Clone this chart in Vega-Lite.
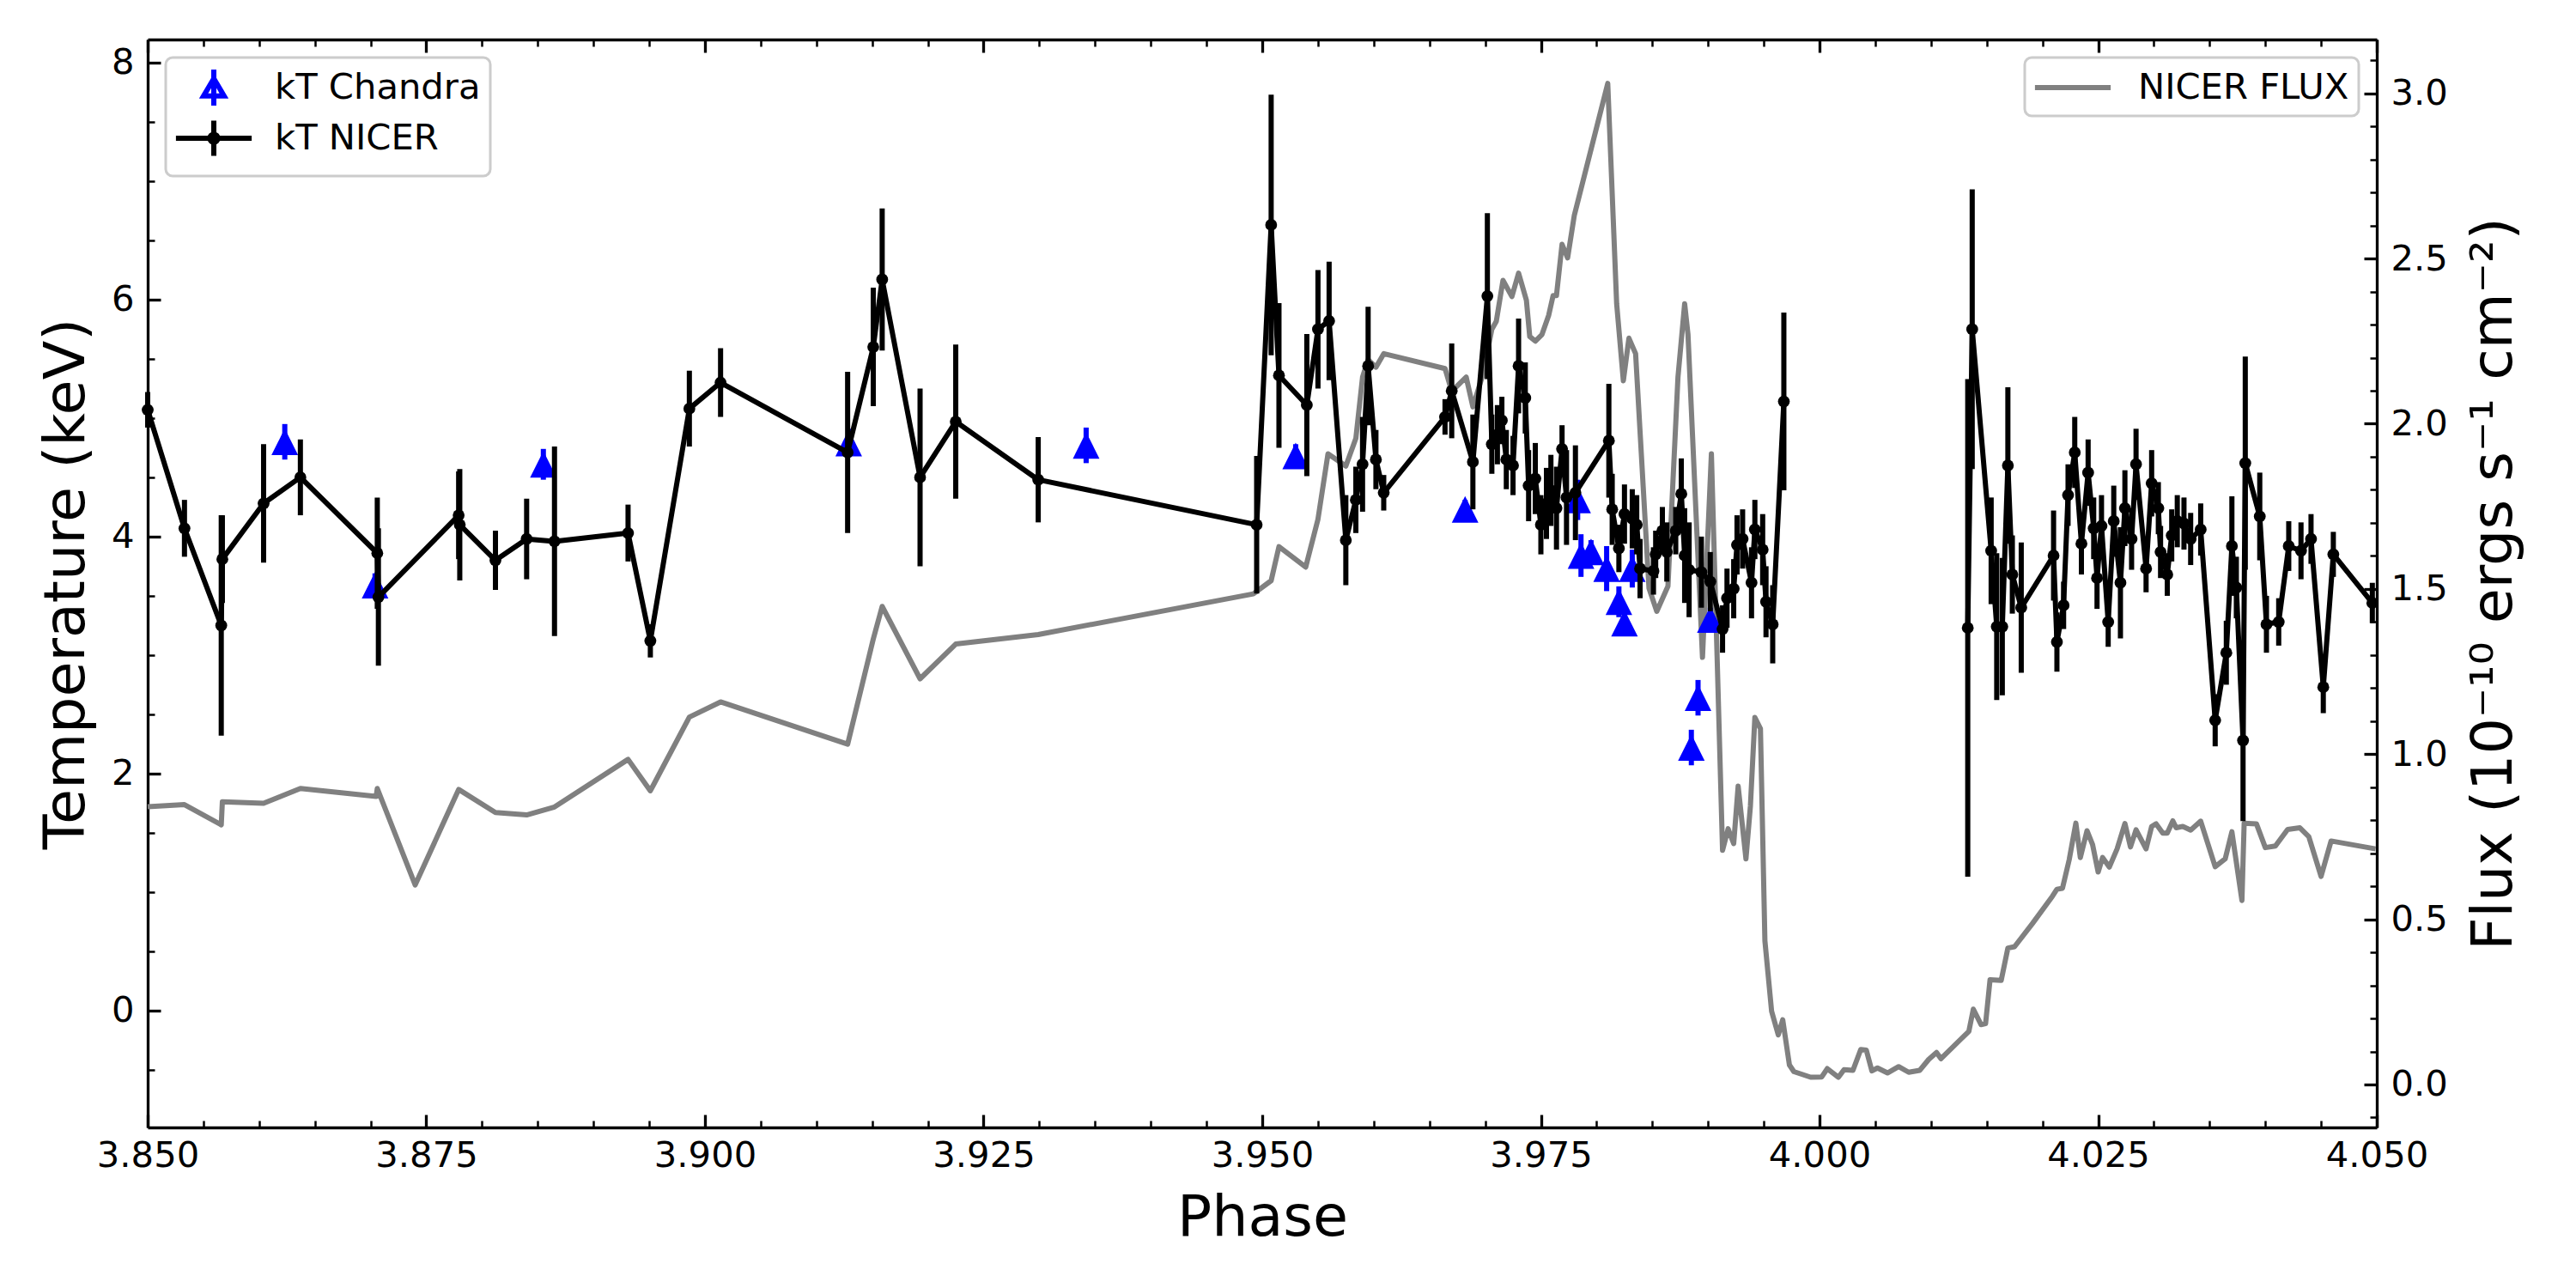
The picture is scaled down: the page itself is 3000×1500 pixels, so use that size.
{
  "$schema": "https://vega.github.io/schema/vega-lite/v6.json",
  "width": 2596,
  "height": 1267,
  "autosize": {"type": "none"},
  "padding": {"left": 172, "top": 46, "right": 232, "bottom": 187},
  "background": "white",
  "datasets": {
    "nicer": [
      {"phase": 3.8500, "kT": 5.07, "err": 0.15, "seg": 1},
      {"phase": 3.8533, "kT": 4.07, "err": 0.24, "seg": 1},
      {"phase": 3.8566, "kT": 3.25, "err": 0.93, "seg": 1},
      {"phase": 3.8567, "kT": 3.81, "err": 0.37, "seg": 1},
      {"phase": 3.8604, "kT": 4.28, "err": 0.50, "seg": 1},
      {"phase": 3.8637, "kT": 4.50, "err": 0.32, "seg": 1},
      {"phase": 3.8706, "kT": 3.86, "err": 0.47, "seg": 1},
      {"phase": 3.8707, "kT": 3.49, "err": 0.58, "seg": 1},
      {"phase": 3.8779, "kT": 4.18, "err": 0.37, "seg": 1},
      {"phase": 3.8780, "kT": 4.10, "err": 0.47, "seg": 1},
      {"phase": 3.8812, "kT": 3.80, "err": 0.25, "seg": 1},
      {"phase": 3.8840, "kT": 3.98, "err": 0.34, "seg": 1},
      {"phase": 3.8865, "kT": 3.96, "err": 0.80, "seg": 1},
      {"phase": 3.8931, "kT": 4.03, "err": 0.24, "seg": 1},
      {"phase": 3.8951, "kT": 3.12, "err": 0.14, "seg": 1},
      {"phase": 3.8986, "kT": 5.08, "err": 0.32, "seg": 1},
      {"phase": 3.9014, "kT": 5.30, "err": 0.29, "seg": 1},
      {"phase": 3.9128, "kT": 4.71, "err": 0.68, "seg": 1},
      {"phase": 3.9151, "kT": 5.60, "err": 0.50, "seg": 1},
      {"phase": 3.9159, "kT": 6.17, "err": 0.60, "seg": 1},
      {"phase": 3.9193, "kT": 4.50, "err": 0.75, "seg": 1},
      {"phase": 3.9225, "kT": 4.97, "err": 0.65, "seg": 1},
      {"phase": 3.9299, "kT": 4.48, "err": 0.36, "seg": 1},
      {"phase": 3.9495, "kT": 4.10, "err": 0.58, "seg": 1},
      {"phase": 3.9508, "kT": 6.63, "err": 1.10, "seg": 1},
      {"phase": 3.9515, "kT": 5.36, "err": 0.61, "seg": 1},
      {"phase": 3.9540, "kT": 5.11, "err": 0.60, "seg": 1},
      {"phase": 3.9550, "kT": 5.75, "err": 0.50, "seg": 1},
      {"phase": 3.9560, "kT": 5.82, "err": 0.50, "seg": 1},
      {"phase": 3.9575, "kT": 3.97, "err": 0.38, "seg": 1},
      {"phase": 3.9584, "kT": 4.31, "err": 0.28, "seg": 1},
      {"phase": 3.9590, "kT": 4.61, "err": 0.40, "seg": 1},
      {"phase": 3.9595, "kT": 5.44, "err": 0.50, "seg": 1},
      {"phase": 3.9602, "kT": 4.65, "err": 0.25, "seg": 1},
      {"phase": 3.9609, "kT": 4.37, "err": 0.15, "seg": 1},
      {"phase": 3.9664, "kT": 5.01, "err": 0.15, "seg": 1},
      {"phase": 3.9670, "kT": 5.23, "err": 0.40, "seg": 1},
      {"phase": 3.9689, "kT": 4.63, "err": 0.40, "seg": 1},
      {"phase": 3.9702, "kT": 6.03, "err": 0.70, "seg": 1},
      {"phase": 3.9706, "kT": 4.78, "err": 0.25, "seg": 1},
      {"phase": 3.9711, "kT": 4.86, "err": 0.25, "seg": 1},
      {"phase": 3.9715, "kT": 4.98, "err": 0.20, "seg": 1},
      {"phase": 3.9719, "kT": 4.65, "err": 0.25, "seg": 1},
      {"phase": 3.9725, "kT": 4.60, "err": 0.25, "seg": 1},
      {"phase": 3.9730, "kT": 5.44, "err": 0.40, "seg": 1},
      {"phase": 3.9736, "kT": 5.17, "err": 0.30, "seg": 1},
      {"phase": 3.9739, "kT": 4.43, "err": 0.30, "seg": 1},
      {"phase": 3.9745, "kT": 4.49, "err": 0.30, "seg": 1},
      {"phase": 3.9750, "kT": 4.10, "err": 0.25, "seg": 1},
      {"phase": 3.9755, "kT": 4.28, "err": 0.30, "seg": 1},
      {"phase": 3.9759, "kT": 4.39, "err": 0.30, "seg": 1},
      {"phase": 3.9764, "kT": 4.24, "err": 0.35, "seg": 1},
      {"phase": 3.9769, "kT": 4.74, "err": 0.20, "seg": 1},
      {"phase": 3.9773, "kT": 4.33, "err": 0.40, "seg": 1},
      {"phase": 3.9781, "kT": 4.37, "err": 0.40, "seg": 1},
      {"phase": 3.9811, "kT": 4.81, "err": 0.48, "seg": 1},
      {"phase": 3.9814, "kT": 4.23, "err": 0.30, "seg": 1},
      {"phase": 3.9820, "kT": 3.90, "err": 0.20, "seg": 1},
      {"phase": 3.9825, "kT": 4.19, "err": 0.25, "seg": 1},
      {"phase": 3.9832, "kT": 4.15, "err": 0.25, "seg": 1},
      {"phase": 3.9836, "kT": 4.10, "err": 0.25, "seg": 1},
      {"phase": 3.9839, "kT": 3.73, "err": 0.25, "seg": 1},
      {"phase": 3.9851, "kT": 3.71, "err": 0.20, "seg": 1},
      {"phase": 3.9853, "kT": 3.85, "err": 0.20, "seg": 1},
      {"phase": 3.9859, "kT": 4.05, "err": 0.20, "seg": 1},
      {"phase": 3.9863, "kT": 3.87, "err": 0.25, "seg": 1},
      {"phase": 3.9871, "kT": 4.05, "err": 0.20, "seg": 1},
      {"phase": 3.9876, "kT": 4.36, "err": 0.30, "seg": 1},
      {"phase": 3.9879, "kT": 3.84, "err": 0.40, "seg": 1},
      {"phase": 3.9883, "kT": 3.72, "err": 0.40, "seg": 1},
      {"phase": 3.9894, "kT": 3.70, "err": 0.30, "seg": 1},
      {"phase": 3.9902, "kT": 3.62, "err": 0.25, "seg": 1},
      {"phase": 3.9913, "kT": 3.22, "err": 0.20, "seg": 1},
      {"phase": 3.9917, "kT": 3.48, "err": 0.25, "seg": 1},
      {"phase": 3.9923, "kT": 3.56, "err": 0.25, "seg": 1},
      {"phase": 3.9926, "kT": 3.93, "err": 0.25, "seg": 1},
      {"phase": 3.9931, "kT": 3.98, "err": 0.25, "seg": 1},
      {"phase": 3.9939, "kT": 3.61, "err": 0.30, "seg": 1},
      {"phase": 3.9942, "kT": 4.06, "err": 0.25, "seg": 1},
      {"phase": 3.9949, "kT": 3.89, "err": 0.30, "seg": 1},
      {"phase": 3.9952, "kT": 3.45, "err": 0.30, "seg": 1},
      {"phase": 3.9958, "kT": 3.26, "err": 0.33, "seg": 1},
      {"phase": 3.9968, "kT": 5.14, "err": 0.75, "seg": 1},
      {"phase": 4.0133, "kT": 3.23, "err": 2.10, "seg": 2},
      {"phase": 4.0137, "kT": 5.75, "err": 1.18, "seg": 2},
      {"phase": 4.0154, "kT": 3.88, "err": 0.45, "seg": 2},
      {"phase": 4.0159, "kT": 3.24, "err": 0.62, "seg": 2},
      {"phase": 4.0164, "kT": 3.24, "err": 0.58, "seg": 2},
      {"phase": 4.0169, "kT": 4.60, "err": 0.66, "seg": 2},
      {"phase": 4.0173, "kT": 3.68, "err": 0.33, "seg": 2},
      {"phase": 4.0181, "kT": 3.40, "err": 0.55, "seg": 2},
      {"phase": 4.0210, "kT": 3.84, "err": 0.38, "seg": 2},
      {"phase": 4.0213, "kT": 3.11, "err": 0.25, "seg": 2},
      {"phase": 4.0219, "kT": 3.42, "err": 0.20, "seg": 2},
      {"phase": 4.0223, "kT": 4.35, "err": 0.26, "seg": 2},
      {"phase": 4.0229, "kT": 4.71, "err": 0.30, "seg": 2},
      {"phase": 4.0235, "kT": 3.94, "err": 0.26, "seg": 2},
      {"phase": 4.0241, "kT": 4.54, "err": 0.28, "seg": 2},
      {"phase": 4.0246, "kT": 4.07, "err": 0.26, "seg": 2},
      {"phase": 4.0249, "kT": 3.65, "err": 0.26, "seg": 2},
      {"phase": 4.0253, "kT": 4.09, "err": 0.26, "seg": 2},
      {"phase": 4.0259, "kT": 3.28, "err": 0.21, "seg": 2},
      {"phase": 4.0264, "kT": 4.13, "err": 0.30, "seg": 2},
      {"phase": 4.0270, "kT": 3.61, "err": 0.47, "seg": 2},
      {"phase": 4.0274, "kT": 4.24, "err": 0.32, "seg": 2},
      {"phase": 4.0280, "kT": 3.98, "err": 0.26, "seg": 2},
      {"phase": 4.0284, "kT": 4.61, "err": 0.30, "seg": 2},
      {"phase": 4.0293, "kT": 3.73, "err": 0.20, "seg": 2},
      {"phase": 4.0298, "kT": 4.45, "err": 0.28, "seg": 2},
      {"phase": 4.0304, "kT": 4.24, "err": 0.22, "seg": 2},
      {"phase": 4.0306, "kT": 3.87, "err": 0.22, "seg": 2},
      {"phase": 4.0312, "kT": 3.68, "err": 0.18, "seg": 2},
      {"phase": 4.0316, "kT": 4.01, "err": 0.22, "seg": 2},
      {"phase": 4.0321, "kT": 4.13, "err": 0.22, "seg": 2},
      {"phase": 4.0327, "kT": 4.11, "err": 0.22, "seg": 2},
      {"phase": 4.0333, "kT": 3.98, "err": 0.22, "seg": 2},
      {"phase": 4.0342, "kT": 4.06, "err": 0.22, "seg": 2},
      {"phase": 4.0355, "kT": 2.45, "err": 0.22, "seg": 2},
      {"phase": 4.0365, "kT": 3.02, "err": 0.27, "seg": 2},
      {"phase": 4.0370, "kT": 3.92, "err": 0.42, "seg": 2},
      {"phase": 4.0374, "kT": 3.57, "err": 0.26, "seg": 2},
      {"phase": 4.0380, "kT": 2.28, "err": 0.68, "seg": 2},
      {"phase": 4.0382, "kT": 4.62, "err": 0.90, "seg": 2},
      {"phase": 4.0395, "kT": 4.17, "err": 0.37, "seg": 2},
      {"phase": 4.0401, "kT": 3.26, "err": 0.24, "seg": 2},
      {"phase": 4.0412, "kT": 3.28, "err": 0.20, "seg": 2},
      {"phase": 4.0421, "kT": 3.92, "err": 0.21, "seg": 2},
      {"phase": 4.0432, "kT": 3.88, "err": 0.24, "seg": 2},
      {"phase": 4.0441, "kT": 3.98, "err": 0.21, "seg": 2},
      {"phase": 4.0452, "kT": 2.73, "err": 0.22, "seg": 2},
      {"phase": 4.0461, "kT": 3.85, "err": 0.19, "seg": 2},
      {"phase": 4.0496, "kT": 3.44, "err": 0.17, "seg": 2}
    ],
    "chandra": [
      {"phase": 3.8623, "kT": 4.80, "err": 0.15},
      {"phase": 3.8704, "kT": 3.59, "err": 0.10},
      {"phase": 3.8855, "kT": 4.61, "err": 0.13},
      {"phase": 3.9129, "kT": 4.79, "err": 0.12},
      {"phase": 3.9342, "kT": 4.77, "err": 0.15},
      {"phase": 3.9530, "kT": 4.68, "err": 0.10},
      {"phase": 3.9682, "kT": 4.23, "err": 0.08},
      {"phase": 3.9783, "kT": 4.31, "err": 0.17},
      {"phase": 3.9786, "kT": 3.84, "err": 0.18},
      {"phase": 3.9795, "kT": 3.87, "err": 0.10},
      {"phase": 3.9809, "kT": 3.73, "err": 0.19},
      {"phase": 3.9820, "kT": 3.45, "err": 0.13},
      {"phase": 3.9825, "kT": 3.27, "err": 0.10},
      {"phase": 3.9832, "kT": 3.73, "err": 0.16},
      {"phase": 3.9885, "kT": 2.22, "err": 0.15},
      {"phase": 3.9891, "kT": 2.64, "err": 0.15},
      {"phase": 3.9902, "kT": 3.30, "err": 0.10}
    ],
    "flux": [
      {"phase": 3.8500, "flux": 0.841}, {"phase": 3.8533, "flux": 0.847}, {"phase": 3.8566, "flux": 0.786},
      {"phase": 3.8567, "flux": 0.856}, {"phase": 3.8604, "flux": 0.851}, {"phase": 3.8637, "flux": 0.896},
      {"phase": 3.8705, "flux": 0.872}, {"phase": 3.8706, "flux": 0.896}, {"phase": 3.8740, "flux": 0.604},
      {"phase": 3.8779, "flux": 0.893}, {"phase": 3.8812, "flux": 0.823}, {"phase": 3.8840, "flux": 0.816},
      {"phase": 3.8865, "flux": 0.840}, {"phase": 3.8931, "flux": 0.984}, {"phase": 3.8951, "flux": 0.889},
      {"phase": 3.8986, "flux": 1.112}, {"phase": 3.9014, "flux": 1.158}, {"phase": 3.9128, "flux": 1.030},
      {"phase": 3.9151, "flux": 1.348}, {"phase": 3.9159, "flux": 1.447}, {"phase": 3.9193, "flux": 1.228},
      {"phase": 3.9225, "flux": 1.333}, {"phase": 3.9299, "flux": 1.362}, {"phase": 3.9492, "flux": 1.485},
      {"phase": 3.9508, "flux": 1.525}, {"phase": 3.9515, "flux": 1.628}, {"phase": 3.9539, "flux": 1.566},
      {"phase": 3.9550, "flux": 1.711}, {"phase": 3.9559, "flux": 1.909}, {"phase": 3.9575, "flux": 1.872},
      {"phase": 3.9584, "flux": 1.956}, {"phase": 3.9590, "flux": 2.141}, {"phase": 3.9595, "flux": 2.194},
      {"phase": 3.9602, "flux": 2.171}, {"phase": 3.9609, "flux": 2.212}, {"phase": 3.9664, "flux": 2.167},
      {"phase": 3.9670, "flux": 2.098}, {"phase": 3.9683, "flux": 2.141}, {"phase": 3.9689, "flux": 2.051},
      {"phase": 3.9698, "flux": 2.150}, {"phase": 3.9706, "flux": 2.286}, {"phase": 3.9710, "flux": 2.310},
      {"phase": 3.9716, "flux": 2.434}, {"phase": 3.9724, "flux": 2.385}, {"phase": 3.9730, "flux": 2.456},
      {"phase": 3.9737, "flux": 2.374}, {"phase": 3.9740, "flux": 2.264}, {"phase": 3.9745, "flux": 2.250},
      {"phase": 3.9751, "flux": 2.270}, {"phase": 3.9757, "flux": 2.328}, {"phase": 3.9761, "flux": 2.388},
      {"phase": 3.9764, "flux": 2.388}, {"phase": 3.9769, "flux": 2.543}, {"phase": 3.9774, "flux": 2.502},
      {"phase": 3.9780, "flux": 2.631}, {"phase": 3.9810, "flux": 3.030}, {"phase": 3.9818, "flux": 2.363},
      {"phase": 3.9824, "flux": 2.130}, {"phase": 3.9829, "flux": 2.259}, {"phase": 3.9835, "flux": 2.212},
      {"phase": 3.9847, "flux": 1.502}, {"phase": 3.9854, "flux": 1.432}, {"phase": 3.9864, "flux": 1.508},
      {"phase": 3.9873, "flux": 2.141}, {"phase": 3.9879, "flux": 2.363}, {"phase": 3.9882, "flux": 2.270},
      {"phase": 3.9895, "flux": 1.293}, {"phase": 3.9903, "flux": 1.909}, {"phase": 3.9913, "flux": 0.709},
      {"phase": 3.9918, "flux": 0.774}, {"phase": 3.9923, "flux": 0.729}, {"phase": 3.9927, "flux": 0.903},
      {"phase": 3.9934, "flux": 0.683}, {"phase": 3.9938, "flux": 0.843}, {"phase": 3.9942, "flux": 1.111},
      {"phase": 3.9947, "flux": 1.077}, {"phase": 3.9951, "flux": 0.435}, {"phase": 3.9957, "flux": 0.222},
      {"phase": 3.9963, "flux": 0.150}, {"phase": 3.9967, "flux": 0.196}, {"phase": 3.9973, "flux": 0.059},
      {"phase": 3.9977, "flux": 0.039}, {"phase": 3.9992, "flux": 0.022}, {"phase": 4.0002, "flux": 0.023},
      {"phase": 4.0007, "flux": 0.048}, {"phase": 4.0017, "flux": 0.022}, {"phase": 4.0022, "flux": 0.045},
      {"phase": 4.0030, "flux": 0.043}, {"phase": 4.0037, "flux": 0.106}, {"phase": 4.0042, "flux": 0.104},
      {"phase": 4.0047, "flux": 0.041}, {"phase": 4.0052, "flux": 0.050}, {"phase": 4.0061, "flux": 0.035},
      {"phase": 4.0071, "flux": 0.054}, {"phase": 4.0080, "flux": 0.037}, {"phase": 4.0090, "flux": 0.043},
      {"phase": 4.0098, "flux": 0.076}, {"phase": 4.0105, "flux": 0.097}, {"phase": 4.0109, "flux": 0.078},
      {"phase": 4.0134, "flux": 0.161}, {"phase": 4.0138, "flux": 0.228}, {"phase": 4.0145, "flux": 0.181},
      {"phase": 4.0149, "flux": 0.184}, {"phase": 4.0153, "flux": 0.317}, {"phase": 4.0163, "flux": 0.315},
      {"phase": 4.0169, "flux": 0.413}, {"phase": 4.0175, "flux": 0.417}, {"phase": 4.0191, "flux": 0.487},
      {"phase": 4.0209, "flux": 0.570}, {"phase": 4.0213, "flux": 0.591}, {"phase": 4.0218, "flux": 0.594},
      {"phase": 4.0224, "flux": 0.680}, {"phase": 4.0230, "flux": 0.791}, {"phase": 4.0234, "flux": 0.687},
      {"phase": 4.0240, "flux": 0.768}, {"phase": 4.0245, "flux": 0.726}, {"phase": 4.0250, "flux": 0.643},
      {"phase": 4.0254, "flux": 0.687}, {"phase": 4.0260, "flux": 0.658}, {"phase": 4.0267, "flux": 0.713},
      {"phase": 4.0274, "flux": 0.790}, {"phase": 4.0279, "flux": 0.719}, {"phase": 4.0284, "flux": 0.771},
      {"phase": 4.0293, "flux": 0.713}, {"phase": 4.0298, "flux": 0.781}, {"phase": 4.0302, "flux": 0.789},
      {"phase": 4.0308, "flux": 0.761}, {"phase": 4.0312, "flux": 0.761}, {"phase": 4.0317, "flux": 0.798},
      {"phase": 4.0320, "flux": 0.777}, {"phase": 4.0326, "flux": 0.781}, {"phase": 4.0333, "flux": 0.770},
      {"phase": 4.0342, "flux": 0.797}, {"phase": 4.0355, "flux": 0.659}, {"phase": 4.0364, "flux": 0.683},
      {"phase": 4.0370, "flux": 0.765}, {"phase": 4.0379, "flux": 0.557}, {"phase": 4.0381, "flux": 0.791},
      {"phase": 4.0392, "flux": 0.789}, {"phase": 4.0400, "flux": 0.717}, {"phase": 4.0409, "flux": 0.722},
      {"phase": 4.0420, "flux": 0.772}, {"phase": 4.0431, "flux": 0.777}, {"phase": 4.0439, "flux": 0.750},
      {"phase": 4.0450, "flux": 0.630}, {"phase": 4.0459, "flux": 0.737}, {"phase": 4.0499, "flux": 0.713}
    ],
    "keys": [
      {"series": "kT Chandra"},
      {"series": "kT NICER"}
    ]
  },
  "layer": [
    {
      "data": {"name": "flux"},
      "mark": {"type": "line", "strokeWidth": 6, "strokeJoin": "round"},
      "encoding": {
        "x": {
          "field": "phase",
          "type": "quantitative",
          "scale": {"domain": [3.85, 4.05], "nice": false, "zero": false},
          "axis": {
            "orient": "top",
            "title": null,
            "labels": false,
            "values": [3.85, 3.855, 3.86, 3.865, 3.87, 3.875, 3.88, 3.885, 3.89, 3.895, 3.9, 3.905, 3.91, 3.915, 3.92, 3.925, 3.93, 3.935, 3.94, 3.945, 3.95, 3.955, 3.96, 3.965, 3.97, 3.975, 3.98, 3.985, 3.99, 3.995, 4.0, 4.005, 4.01, 4.015, 4.02, 4.025, 4.03, 4.035, 4.04, 4.045, 4.05],
            "tickSize": {"expr": "round(datum.value*1000) % 25 === 0 ? -15 : -8"},
            "tickWidth": {"expr": "round(datum.value*1000) % 25 === 0 ? 3.3 : 2.5"}
          }
        },
        "y": {
          "field": "flux",
          "type": "quantitative",
          "scale": {"domain": [-0.13, 3.163], "nice": false, "zero": false},
          "axis": {
            "orient": "right",
            "title": "Flux (10⁻¹⁰ ergs s⁻¹ cm⁻²)",
            "titleAngle": 270,
            "titleBaseline": "top",
            "titlePadding": 21,
            "labelPadding": 31,
            "values": [-0.1, 0, 0.1, 0.2, 0.3, 0.4, 0.5, 0.6, 0.7, 0.8, 0.9, 1.0, 1.1, 1.2, 1.3, 1.4, 1.5, 1.6, 1.7, 1.8, 1.9, 2.0, 2.1, 2.2, 2.3, 2.4, 2.5, 2.6, 2.7, 2.8, 2.9, 3.0, 3.1],
            "labelExpr": "round(datum.value*10) % 5 === 0 ? format(datum.value, '.1f') : ''",
            "tickSize": {"expr": "round(datum.value*10) % 5 === 0 ? -15 : -8"},
            "tickWidth": {"expr": "round(datum.value*10) % 5 === 0 ? 3.3 : 2.5"}
          }
        },
        "color": {
          "datum": "NICER FLUX",
          "type": "nominal",
          "scale": {"range": ["#808080"]},
          "legend": {
            "orient": "top-right",
            "offset": 21,
            "title": null,
            "symbolType": "M-2.1,0L2.1,0",
            "symbolSize": 1764,
            "symbolStrokeWidth": 6,
            "symbolOffset": 21,
            "labelOffset": 52,
            "labelLimit": 1000,
            "padding": 11,
            "strokeColor": "#cccccc",
            "fillColor": "rgba(255,255,255,0.8)",
            "cornerRadius": 8
          }
        }
      }
    },
    {
      "data": {"name": "chandra"},
      "mark": {"type": "errorbar", "color": "blue", "thickness": 6},
      "encoding": {
        "x": {"field": "phase", "type": "quantitative", "scale": {"domain": [3.85, 4.05], "nice": false, "zero": false}, "axis": null},
        "y": {"field": "kT", "type": "quantitative", "scale": {"domain": [-0.986, 8.195], "nice": false, "zero": false}, "axis": null},
        "yError": {"field": "err"}
      }
    },
    {
      "data": {"name": "chandra"},
      "mark": {"type": "point", "shape": "M0,-1L-1,1L1,1Z", "filled": true, "fill": "blue", "size": 961, "opacity": 1, "strokeWidth": 0},
      "encoding": {
        "x": {"field": "phase", "type": "quantitative", "scale": {"domain": [3.85, 4.05], "nice": false, "zero": false}, "axis": null},
        "y": {"field": "kT", "type": "quantitative", "scale": {"domain": [-0.986, 8.195], "nice": false, "zero": false}, "axis": null}
      }
    },
    {
      "data": {"name": "nicer"},
      "mark": {"type": "errorbar", "color": "black", "thickness": 6},
      "encoding": {
        "x": {"field": "phase", "type": "quantitative", "scale": {"domain": [3.85, 4.05], "nice": false, "zero": false}, "axis": null},
        "y": {"field": "kT", "type": "quantitative", "scale": {"domain": [-0.986, 8.195], "nice": false, "zero": false}, "axis": null},
        "yError": {"field": "err"}
      }
    },
    {
      "data": {"name": "nicer"},
      "mark": {"type": "line", "color": "black", "strokeWidth": 6, "strokeJoin": "round"},
      "encoding": {
        "x": {
          "field": "phase",
          "type": "quantitative",
          "scale": {"domain": [3.85, 4.05], "nice": false, "zero": false},
          "axis": {
            "orient": "bottom",
            "title": "Phase",
            "titlePadding": 11,
            "labelPadding": 27.5,
            "values": [3.85, 3.855, 3.86, 3.865, 3.87, 3.875, 3.88, 3.885, 3.89, 3.895, 3.9, 3.905, 3.91, 3.915, 3.92, 3.925, 3.93, 3.935, 3.94, 3.945, 3.95, 3.955, 3.96, 3.965, 3.97, 3.975, 3.98, 3.985, 3.99, 3.995, 4.0, 4.005, 4.01, 4.015, 4.02, 4.025, 4.03, 4.035, 4.04, 4.045, 4.05],
            "labelExpr": "round(datum.value*1000) % 25 === 0 ? format(datum.value, '.3f') : ''",
            "tickSize": {"expr": "round(datum.value*1000) % 25 === 0 ? -15 : -8"},
            "tickWidth": {"expr": "round(datum.value*1000) % 25 === 0 ? 3.3 : 2.5"}
          }
        },
        "y": {
          "field": "kT",
          "type": "quantitative",
          "scale": {"domain": [-0.986, 8.195], "nice": false, "zero": false},
          "axis": {
            "orient": "left",
            "title": "Temperature (keV)",
            "titlePadding": 17.5,
            "labelPadding": 31,
            "values": [-0.5, 0, 0.5, 1, 1.5, 2, 2.5, 3, 3.5, 4, 4.5, 5, 5.5, 6, 6.5, 7, 7.5, 8],
            "labelExpr": "datum.value % 2 === 0 ? format(datum.value, 'd') : ''",
            "tickSize": {"expr": "datum.value % 2 === 0 ? -15 : -8"},
            "tickWidth": {"expr": "datum.value % 2 === 0 ? 3.3 : 2.5"}
          }
        },
        "detail": {"field": "seg", "type": "nominal"}
      }
    },
    {
      "data": {"name": "nicer"},
      "mark": {"type": "point", "shape": "circle", "filled": true, "color": "black", "size": 190, "opacity": 1},
      "encoding": {
        "x": {"field": "phase", "type": "quantitative", "scale": {"domain": [3.85, 4.05], "nice": false, "zero": false}, "axis": null},
        "y": {"field": "kT", "type": "quantitative", "scale": {"domain": [-0.986, 8.195], "nice": false, "zero": false}, "axis": null}
      }
    },
    {
      "data": {"name": "keys"},
      "mark": {"type": "point", "filled": true, "opacity": 0},
      "encoding": {
        "fill": {
          "field": "series",
          "type": "nominal",
          "scale": {"domain": ["kT Chandra", "kT NICER"], "range": ["blue", "black"]},
          "legend": {
            "orient": "top-left",
            "offset": 21,
            "title": null,
            "symbolSize": 1764,
            "symbolStrokeWidth": 6,
            "symbolOpacity": 1,
            "symbolOffset": 21,
            "labelOffset": 47,
            "labelLimit": 1000,
            "rowPadding": -7,
            "padding": 11,
            "strokeColor": "#cccccc",
            "fillColor": "rgba(255,255,255,0.8)",
            "cornerRadius": 8
          }
        },
        "stroke": {
          "field": "series",
          "type": "nominal",
          "scale": {"domain": ["kT Chandra", "kT NICER"], "range": ["blue", "black"]},
          "legend": {"orient": "top-left", "title": null}
        },
        "shape": {
          "field": "series",
          "type": "nominal",
          "scale": {
            "domain": ["kT Chandra", "kT NICER"],
            "range": [
              "M0,-1L0,1M0,-0.5L-0.57,0.47L0.57,0.47Z",
              "M-2.1,0L2.1,0M0,-0.98L0,0.98M0.22,0A0.22,0.22,0,1,1,-0.22,0A0.22,0.22,0,1,1,0.22,0Z"
            ]
          },
          "legend": {"orient": "top-left", "title": null}
        }
      }
    }
  ],
  "resolve": {"scale": {"y": "independent"}, "axis": {"x": "independent"}},
  "config": {
    "view": {"stroke": null},
    "font": "DejaVu Sans",
    "axis": {
      "grid": false,
      "domainColor": "black",
      "domainWidth": 3.3,
      "tickColor": "black",
      "labelColor": "black",
      "titleColor": "black",
      "labelFont": "DejaVu Sans",
      "titleFont": "DejaVu Sans",
      "labelFontSize": 41.7,
      "titleFontSize": 66.7,
      "titleFontWeight": "normal",
      "labelOverlap": false,
      "labelFlush": false,
      "zindex": 1
    },
    "legend": {
      "labelFont": "DejaVu Sans",
      "labelFontSize": 41.7,
      "labelColor": "black",
      "strokeWidth": 3
    }
  }
}
